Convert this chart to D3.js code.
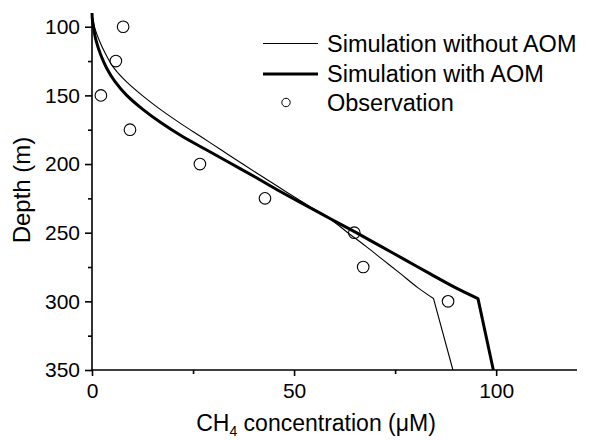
<!DOCTYPE html>
<meta charset="utf-8">
<style>
  body { margin: 0; background: #fff; }
  text { font-family: Arial, "Liberation Sans", sans-serif; fill: #000; }
  .axis path, .axis line { stroke: #000; stroke-width: 1.6px; }
  .axis text { font-size: 21px; font-family: Arial, "Liberation Sans", sans-serif; }
</style>
<svg width="591" height="440"></svg>
<script src="https://d3js.org/d3.v7.min.js"></script>
<script>
  // observations
  var obsDepth = [100, 125, 150, 175, 200, 225, 250, 275, 300];
  var obsCH4 = [7.7, 5.9, 2.2, 9.4, 26.7, 42.8, 64.9, 67.1, 88.1];

  // model output (depth in m, CH4 in uM)
  var simDepth = [90, 95, 100, 110, 120, 130, 140, 150, 160, 170, 180, 190, 200, 210, 220, 230, 240, 250, 260, 270, 280, 290, 298, 350];
  var simNoAOM = [0, 0.25, 0.6, 1.8, 3.4, 5.4, 8.5, 12.4, 16.8, 21.7, 26.9, 32.1, 37.3, 42.6, 47.9, 53.4, 58.9, 63.3, 67.8, 72.1, 76.4, 80.6, 84.5, 89.3];
  var simAOM = [0, 0.1, 0.35, 1.0, 2.1, 3.6, 5.7, 8.6, 12.5, 17.1, 22.4, 28.5, 34.6, 40.7, 46.6, 52.8, 59.1, 65.4, 71.5, 77.6, 83.7, 89.9, 95.5, 99.3];

  var xTicks = [0, 50, 100];
  var xMinor = [25, 75];
  var yTicks = [100, 150, 200, 250, 300, 350];
  var yMinor = [125, 175, 225, 275, 325];

  var legendLabels = ["Simulation without AOM", "Simulation with AOM", "Observation"];

  var svg = d3.select("svg");
  var pLeft = 92, pRight = 577, pTop = 13, pBottom = 370;

  var x = d3.scaleLinear().domain([0, 120]).range([pLeft, pRight]);
  var y = d3.scaleLinear().domain([90, 350]).range([pTop, pBottom]);

  // axes
  svg.append("g").attr("class", "axis")
    .attr("transform", "translate(0," + pBottom + ")")
    .call(d3.axisBottom(x).tickValues(xTicks).tickSize(6).tickPadding(7).tickSizeOuter(0))
    .call(function (g) { g.select(".domain").attr("d", "M" + pLeft + ",0H" + pRight); });
  svg.append("g").attr("class", "axis")
    .attr("transform", "translate(0," + pBottom + ")")
    .call(d3.axisBottom(x).tickValues(xMinor).tickSize(4).tickFormat("").tickSizeOuter(0))
    .call(function (g) { g.select(".domain").remove(); });

  svg.append("g").attr("class", "axis")
    .attr("transform", "translate(" + pLeft + ",0)")
    .call(d3.axisLeft(y).tickValues(yTicks).tickSize(7).tickPadding(5).tickSizeOuter(0))
    .call(function (g) { g.select(".domain").attr("d", "M0," + pTop + "V" + pBottom); });
  svg.append("g").attr("class", "axis")
    .attr("transform", "translate(" + pLeft + ",0)")
    .call(d3.axisLeft(y).tickValues(yMinor).tickSize(4).tickFormat("").tickSizeOuter(0))
    .call(function (g) { g.select(".domain").remove(); });

  // curves: smooth down to the kink at 298 m, then straight
  function profilePath(vals) {
    var pts = simDepth.map(function (d, i) { return [vals[i], d]; });
    var curve = pts.slice(0, pts.length - 1);
    var last = pts[pts.length - 1];
    var line = d3.line()
      .x(function (p) { return x(p[0]); })
      .y(function (p) { return y(p[1]); })
      .curve(d3.curveMonotoneY);
    return line(curve) + "L" + x(last[0]) + "," + y(last[1]);
  }

  svg.append("path")
    .attr("d", profilePath(simNoAOM))
    .attr("fill", "none").attr("stroke", "#000").attr("stroke-width", 1.1);
  svg.append("path")
    .attr("d", profilePath(simAOM))
    .attr("fill", "none").attr("stroke", "#000").attr("stroke-width", 3)
    .attr("stroke-linejoin", "round");

  svg.selectAll("circle.obs")
    .data(obsDepth)
    .enter().append("circle")
    .attr("class", "obs")
    .attr("cx", function (d, i) { return x(obsCH4[i]); })
    .attr("cy", function (d) { return y(d); })
    .attr("r", 5.8)
    .attr("fill", "none").attr("stroke", "#000").attr("stroke-width", 1.1);

  // axis titles
  var xt = svg.append("text")
    .attr("x", 316).attr("y", 431)
    .attr("text-anchor", "middle")
    .style("font-size", "23px");
  xt.append("tspan").text("CH");
  xt.append("tspan").attr("dy", 5).style("font-size", "14px").text("4");
  xt.append("tspan").attr("dy", -5).text(" concentration (\u03bcM)");

  svg.append("text")
    .attr("transform", "translate(30,190) rotate(-90)")
    .attr("text-anchor", "middle")
    .style("font-size", "24px")
    .text("Depth (m)");

  // legend
  var lg = svg.append("g");
  var rows = [43.5, 74, 102.5];
  lg.append("line").attr("x1", 263).attr("x2", 318).attr("y1", rows[0]).attr("y2", rows[0])
    .attr("stroke", "#000").attr("stroke-width", 1.1);
  lg.append("line").attr("x1", 263).attr("x2", 318).attr("y1", rows[1]).attr("y2", rows[1])
    .attr("stroke", "#000").attr("stroke-width", 3);
  lg.append("circle").attr("cx", 286).attr("cy", rows[2]).attr("r", 4.2)
    .attr("fill", "none").attr("stroke", "#000").attr("stroke-width", 1);
  lg.selectAll("text.leg")
    .data(legendLabels)
    .enter().append("text")
    .attr("class", "leg")
    .attr("x", 327)
    .attr("y", function (d, i) { return rows[i] + 8.3; })
    .style("font-size", "23.5px")
    .text(function (d) { return d; });
</script>
